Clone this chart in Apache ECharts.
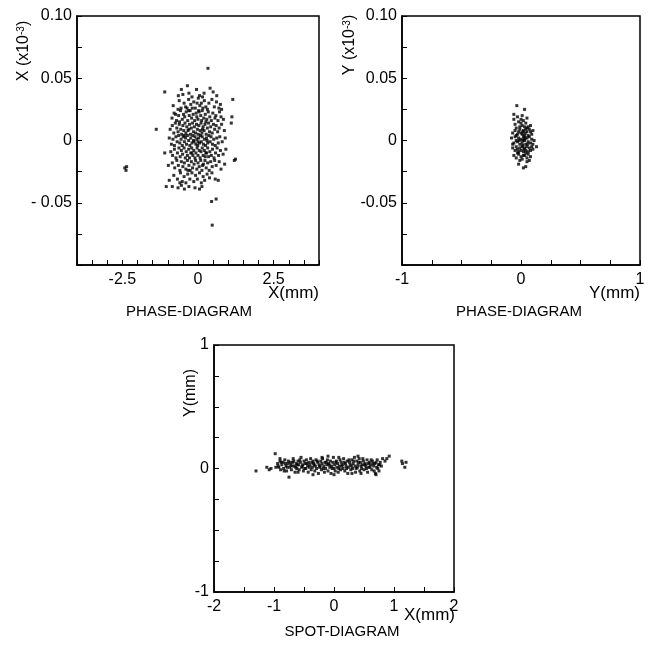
<!DOCTYPE html>
<html>
<head>
<meta charset="utf-8">
<script src="https://cdn.jsdelivr.net/npm/echarts@6/dist/echarts.min.js"></script>
<style>
  html, body { margin: 0; padding: 0; background: #fff; }
  #chart { width: 655px; height: 645px; }
</style>
</head>
<body>
<div id="chart"></div>
<script>
// Phase diagram in X: horizontal position X (mm) vs angle X' (x10^-3)
const phaseXPoints = [
  [-2.42,-0.022],[-2.38,-0.024],[-2.36,-0.021],[0.33,0.058],[0.47,-0.068],[0.45,-0.049],[0.6,-0.047],
  [-1.38,0.009],[-1.1,0.039],[1.15,0.033],[1.12,0.019],[1.1,0.014],[1.24,-0.015],[1.2,-0.016],
  [-1.05,-0.037],[-1.1,-0.01],[-0.95,-0.032],[-0.98,-0.02],
  [-0.55,0.041],[-0.5,0.037],[-0.35,0.044],[-0.3,0.038],[-0.2,0.035],[-0.05,0.041],[0.05,0.036],
  [0.2,0.038],[0.4,0.042],[0.5,0.039],[0.15,0.035],[-0.65,0.036],[0.62,0.036],
  [-0.82,0.028],[-0.62,0.032],[-0.56,0.026],[-0.46,0.030],[-0.41,0.027],[-0.31,0.033],[-0.24,0.029],
  [-0.14,0.031],[-0.09,0.026],[0.01,0.034],[0.06,0.028],[0.11,0.030],[0.21,0.032],[0.26,0.027],
  [0.36,0.030],[0.46,0.033],[0.54,0.027],[0.61,0.031],[0.69,0.026],[0.78,0.025],[-0.19,0.026],
  [0.31,0.025],[-0.66,0.025],[0.74,0.029],[-0.36,0.026],[0.16,0.026],[-0.03,0.030],
  [-0.86,0.018],[-0.79,0.022],[-0.71,0.016],[-0.64,0.020],[-0.58,0.024],[-0.52,0.017],[-0.48,0.021],
  [-0.44,0.019],[-0.39,0.023],[-0.34,0.016],[-0.29,0.020],[-0.26,0.024],[-0.21,0.018],[-0.16,0.021],
  [-0.11,0.016],[-0.06,0.022],[-0.04,0.019],[0.0,0.017],[0.04,0.023],[0.09,0.020],[0.12,0.016],
  [0.14,0.024],[0.19,0.018],[0.24,0.021],[0.29,0.017],[0.34,0.023],[0.39,0.019],[0.44,0.016],
  [0.49,0.022],[0.56,0.018],[0.59,0.020],[0.66,0.016],[0.71,0.023],[0.76,0.019],[0.84,0.017],
  [-0.31,0.024],[-0.61,0.015],[0.26,0.015],[-0.74,0.021],[0.02,0.024],
  [-0.92,0.009],[-0.85,0.012],[-0.8,0.006],[-0.75,0.014],[-0.7,0.010],[-0.66,0.007],[-0.62,0.013],
  [-0.57,0.009],[-0.54,0.005],[-0.5,0.012],[-0.47,0.008],[-0.43,0.014],[-0.4,0.006],[-0.37,0.011],
  [-0.33,0.008],[-0.28,0.013],[-0.25,0.005],[-0.22,0.010],[-0.18,0.014],[-0.15,0.007],[-0.12,0.011],
  [-0.08,0.006],[-0.05,0.013],[-0.02,0.009],[0.01,0.005],[0.03,0.012],[0.07,0.008],[0.1,0.014],
  [0.13,0.006],[0.17,0.011],[0.2,0.008],[0.23,0.013],[0.27,0.005],[0.31,0.010],[0.35,0.014],
  [0.38,0.007],[0.42,0.011],[0.47,0.006],[0.51,0.013],[0.55,0.009],[0.6,0.012],[0.65,0.007],
  [0.7,0.010],[0.78,0.013],[0.87,0.008],[-0.3,0.009],[0.15,0.009],
  [-0.95,0.002],[-0.88,-0.003],[-0.83,0.001],[-0.78,-0.004],[-0.73,0.003],[-0.69,-0.001],[-0.64,0.004],
  [-0.6,-0.002],[-0.56,0.001],[-0.52,-0.004],[-0.49,0.003],[-0.45,-0.001],[-0.41,0.002],[-0.38,-0.003],
  [-0.35,0.004],[-0.31,0.0],[-0.27,-0.004],[-0.24,0.002],[-0.2,-0.002],[-0.17,0.004],[-0.13,-0.001],
  [-0.1,0.003],[-0.07,-0.003],[-0.04,0.001],[-0.01,-0.004],[0.02,0.002],[0.05,-0.002],[0.08,0.004],
  [0.11,-0.001],[0.14,0.003],[0.18,-0.003],[0.21,0.001],[0.25,-0.004],[0.28,0.002],[0.32,-0.002],
  [0.36,0.004],[0.4,-0.001],[0.43,0.003],[0.48,-0.003],[0.52,0.001],[0.57,-0.004],[0.62,0.002],
  [0.67,-0.002],[0.72,0.003],[0.8,-0.001],[0.9,0.002],[-0.15,0.0],[0.3,0.0],[-0.45,0.004],[0.0,-0.001],
  [-0.9,-0.009],[-0.84,-0.012],[-0.78,-0.007],[-0.73,-0.014],[-0.68,-0.010],[-0.63,-0.006],[-0.59,-0.013],
  [-0.55,-0.008],[-0.51,-0.011],[-0.46,-0.006],[-0.42,-0.014],[-0.39,-0.009],[-0.35,-0.012],[-0.31,-0.007],
  [-0.28,-0.014],[-0.24,-0.010],[-0.21,-0.006],[-0.17,-0.012],[-0.14,-0.008],[-0.1,-0.014],[-0.07,-0.010],
  [-0.03,-0.006],[0.0,-0.012],[0.04,-0.008],[0.07,-0.014],[0.1,-0.009],[0.14,-0.006],[0.17,-0.012],
  [0.21,-0.008],[0.24,-0.013],[0.28,-0.010],[0.32,-0.006],[0.35,-0.013],[0.39,-0.009],[0.44,-0.012],
  [0.48,-0.007],[0.53,-0.014],[0.58,-0.010],[0.63,-0.006],[0.68,-0.012],[0.74,-0.008],[0.83,-0.011],
  [0.92,-0.007],[-0.2,-0.010],[0.26,-0.010],
  [-0.85,-0.018],[-0.77,-0.022],[-0.7,-0.016],[-0.65,-0.020],[-0.6,-0.024],[-0.55,-0.017],[-0.5,-0.021],
  [-0.45,-0.018],[-0.4,-0.023],[-0.35,-0.016],[-0.3,-0.020],[-0.26,-0.024],[-0.22,-0.017],[-0.18,-0.022],
  [-0.13,-0.019],[-0.08,-0.016],[-0.04,-0.023],[0.0,-0.018],[0.04,-0.021],[0.09,-0.016],[0.13,-0.024],
  [0.18,-0.019],[0.23,-0.016],[0.27,-0.022],[0.32,-0.018],[0.37,-0.024],[0.42,-0.017],[0.47,-0.021],
  [0.55,-0.016],[0.6,-0.020],[0.7,-0.017],[0.76,-0.023],[0.88,-0.019],[-0.33,-0.024],[0.15,-0.020],
  [-0.8,-0.028],[-0.68,-0.031],[-0.58,-0.026],[-0.52,-0.033],[-0.46,-0.029],[-0.4,-0.034],[-0.34,-0.027],
  [-0.27,-0.031],[-0.2,-0.026],[-0.14,-0.033],[-0.08,-0.028],[-0.02,-0.031],[0.05,-0.026],[0.11,-0.034],
  [0.17,-0.029],[0.22,-0.032],[0.3,-0.027],[0.38,-0.030],[0.46,-0.026],[0.57,-0.031],[0.67,-0.032],
  [-0.6,-0.034],
  [-0.66,-0.038],[-0.55,-0.036],[-0.45,-0.039],[-0.3,-0.037],[-0.1,-0.038],[0.05,-0.039],[0.13,-0.037],
  [-0.85,-0.037]
];

// Phase diagram in Y: vertical position Y (mm) vs angle Y' (x10^-3)
const phaseYPoints = [
  [-0.035,0.028],[0.03,0.025],[-0.06,0.021],[0.0,0.017],[0.13,-0.005],[0.02,-0.022],[0.04,-0.021],
  [-0.02,-0.019],[0.05,-0.017],
  [-0.03,0.019],[0.01,0.020],[0.05,0.018],[-0.06,0.017],
  [-0.05,0.013],[-0.02,0.015],[0.01,0.012],[0.04,0.014],[0.06,0.011],[-0.04,0.010],[0.02,0.016],
  [0.08,0.012],[-0.01,0.011],[0.05,0.010],[0.0,0.014],[0.03,0.011],
  [-0.07,0.006],[-0.05,0.008],[-0.03,0.005],[-0.01,0.009],[0.0,0.006],[0.02,0.008],[0.03,0.004],
  [0.05,0.007],[0.07,0.009],[0.09,0.005],[-0.04,0.004],[0.01,0.005],[0.04,0.009],[0.06,0.004],
  [0.08,0.007],[-0.02,0.007],[0.1,0.008],[0.015,0.007],[0.035,0.006],
  [-0.08,0.002],[-0.06,-0.002],[-0.05,0.003],[-0.03,-0.001],[-0.02,0.002],[-0.01,-0.003],[0.0,0.001],
  [0.01,-0.002],[0.02,0.003],[0.03,0.0],[0.04,-0.003],[0.05,0.002],[0.06,-0.001],[0.07,0.003],
  [0.08,-0.002],[0.09,0.001],[0.1,-0.003],[-0.04,0.0],[0.015,0.0],[0.035,0.002],[0.055,-0.003],
  [-0.07,-0.003],[0.11,0.0],[0.025,0.001],[-0.015,0.0],
  [-0.07,-0.006],[-0.05,-0.008],[-0.04,-0.005],[-0.02,-0.009],[-0.01,-0.006],[0.0,-0.008],[0.01,-0.005],
  [0.02,-0.009],[0.03,-0.006],[0.04,-0.008],[0.05,-0.005],[0.06,-0.009],[0.07,-0.006],[0.08,-0.008],
  [0.09,-0.005],[-0.03,-0.007],[0.025,-0.007],[0.1,-0.007],[0.015,-0.004],
  [-0.06,-0.012],[-0.04,-0.014],[-0.02,-0.011],[0.0,-0.013],[0.01,-0.015],[0.03,-0.012],[0.05,-0.014],
  [0.06,-0.011],[0.08,-0.013],[-0.01,-0.016],[0.04,-0.010],[0.07,-0.016],[-0.03,-0.010],[0.02,-0.012]
];

// Spot diagram at the image plane: X (mm) vs Y (mm)
const spotPoints = [
  [-1.3,-0.02],[-1.12,0.01],[-1.08,-0.01],[-1.05,0.0],[-0.98,0.12],[-0.9,0.08],[-0.75,-0.07],
  [1.13,0.06],[1.2,0.05],[1.18,0.01],[1.14,0.04],[0.92,0.1],[0.88,0.08],[0.85,0.06],[0.7,-0.05],
  [-0.94,0.04],[-0.92,0.01],[-0.9,0.06],[-0.89,-0.01],[-0.87,0.03],[-0.85,0.05],[-0.84,0.0],[-0.82,0.07],
  [-0.8,0.02],[-0.79,-0.02],[-0.77,0.04],[-0.76,0.06],[-0.74,0.01],[-0.72,0.03],[-0.71,-0.01],[-0.69,0.05],
  [-0.68,0.08],[-0.66,0.02],[-0.65,-0.03],[-0.63,0.04],[-0.62,0.0],[-0.6,0.06],[-0.59,0.03],[-0.58,-0.01],
  [-0.56,0.05],[-0.55,0.09],[-0.54,0.01],[-0.52,0.03],[-0.51,-0.02],[-0.5,0.06],[-0.48,0.04],[-0.47,0.0],
  [-0.46,0.07],[-0.44,0.02],[-0.43,-0.03],[-0.42,0.05],[-0.4,0.03],[-0.39,0.08],[-0.38,-0.01],[-0.36,0.01],
  [-0.35,0.06],[-0.34,0.04],[-0.32,-0.02],[-0.31,0.02],[-0.3,0.07],[-0.29,0.0],[-0.27,0.05],[-0.26,-0.04],
  [-0.25,0.03],[-0.24,0.01],[-0.22,0.06],[-0.21,-0.01],[-0.2,0.04],[-0.19,0.08],[-0.17,0.02],[-0.16,-0.03],
  [-0.15,0.05],[-0.14,0.0],[-0.12,0.03],[-0.11,0.07],[-0.1,-0.02],[-0.09,0.04],[-0.07,0.01],[-0.06,0.06],
  [-0.05,-0.04],[-0.04,0.02],[-0.02,0.05],[-0.01,0.09],[0.0,0.0],[0.01,0.03],[0.02,-0.02],[0.04,0.06],
  [0.05,0.01],[0.06,0.04],[0.07,-0.03],[0.09,0.02],[0.1,0.07],[0.11,-0.01],[0.12,0.05],[0.14,0.03],
  [0.15,0.0],[0.16,0.08],[0.18,-0.02],[0.19,0.04],[0.2,0.02],[0.22,0.06],[0.23,-0.04],[0.24,0.01],
  [0.26,0.05],[0.27,0.03],[0.28,-0.01],[0.3,0.07],[0.31,0.0],[0.32,0.04],[0.34,0.09],[0.35,0.02],
  [0.36,-0.03],[0.38,0.06],[0.39,0.01],[0.4,0.03],[0.42,0.08],[0.43,-0.02],[0.44,0.05],[0.46,0.0],
  [0.47,0.03],[0.49,0.06],[0.5,-0.01],[0.52,0.04],[0.53,0.02],[0.55,0.07],[0.56,-0.03],[0.58,0.01],
  [0.59,0.05],[0.61,0.03],[0.63,-0.01],[0.64,0.06],[0.66,0.02],[0.68,0.04],[0.69,-0.04],[0.71,0.01],
  [0.72,0.07],[0.74,0.03],[0.75,-0.02],[0.77,0.05],[0.79,0.02],[0.81,0.08],
  [-0.93,0.02],[-0.88,0.05],[-0.83,-0.02],[-0.81,0.04],[-0.78,0.01],[-0.73,0.05],[-0.7,0.02],[-0.67,0.06],
  [-0.64,0.01],[-0.61,0.03],[-0.57,0.07],[-0.53,0.02],[-0.49,0.0],[-0.45,0.04],[-0.41,0.01],[-0.37,0.05],
  [-0.33,0.03],[-0.28,0.06],[-0.23,0.02],[-0.18,0.0],[-0.13,0.05],[-0.08,0.03],[-0.03,0.0],[0.03,0.05],
  [0.08,0.0],[0.13,0.02],[0.17,0.05],[0.21,0.0],[0.25,0.07],[0.29,0.02],[0.33,0.06],[0.37,0.0],
  [0.41,0.05],[0.45,0.02],[0.48,0.08],[0.51,0.03],[0.54,0.0],[0.57,0.04],[0.6,0.01],[0.62,0.07],
  [0.65,0.04],[0.67,-0.02],[0.7,0.05],[0.73,0.0],[0.76,0.03],[-0.97,0.01],[0.08,0.09],[-0.2,0.09],
  [0.3,-0.04],[-0.35,-0.05],[0.45,-0.04],[-0.6,-0.03],[0.0,-0.05],[-0.1,0.1],[0.4,0.1]
];

// Labelled tick values and their printed text
const phaseXTickX = [[-2.5, '-2.5'], [0, '0'], [2.5, '2.5']];
const phaseTickY = [[0.1, '0.10'], [0.05, '0.05'], [0, '0'], [-0.05, '-0.05']];
const phaseXTickYLeft = [[0.1, '0.10'], [0.05, '0.05'], [0, '0'], [-0.05, '- 0.05']];
const phaseYTickX = [[-1, '-1'], [0, '0'], [1, '1']];
const spotTickX = [[-2, '-2'], [-1, '-1'], [0, '0'], [1, '1'], [2, '2']];
const spotTickY = [[-1, '-1'], [0, '0'], [1, '1']];

const FONT = '"Liberation Sans", Arial, Helvetica, sans-serif';

function labeller(pairs) {
  return function (v) {
    for (const p of pairs) {
      if (Math.abs(p[0] - v) < 1e-9) return p[1];
    }
    return '';
  };
}

function makeAxis(gridIndex, min, max, interval, pairs, isX) {
  return {
    type: 'value',
    gridIndex: gridIndex,
    min: min,
    max: max,
    interval: interval,
    axisLine: { show: true, onZero: false, lineStyle: { color: '#000', width: 1.5 } },
    axisTick: { show: true, inside: true, length: 5, lineStyle: { color: '#000', width: 1 } },
    splitLine: { show: false },
    axisLabel: {
      show: true,
      showMinLabel: true,
      showMaxLabel: true,
      hideOverlap: false,
      margin: isX ? 7 : 5,
      color: '#000',
      fontFamily: FONT,
      fontSize: 16,
      formatter: labeller(pairs)
    }
  };
}

function scatter(xi, data) {
  return {
    type: 'scatter',
    xAxisIndex: xi,
    yAxisIndex: xi,
    data: data,
    symbol: 'rect',
    symbolSize: 3,
    itemStyle: { color: '#000' },
    silent: true,
    animation: false
  };
}

function txt(x, y, text, align, rot, extra) {
  const style = Object.assign({
    text: text,
    fill: '#000',
    font: '17px ' + FONT,
    align: align,
    verticalAlign: 'middle'
  }, extra || {});
  const el = { type: 'text', x: x, y: y, style: style };
  if (rot) el.rotation = rot;
  return el;
}

const supRich = {
  s: { fontSize: 10, fontFamily: FONT, verticalAlign: 'top', lineHeight: 16, padding: [0, 0, 6, 0] }
};

const chart = echarts.init(document.getElementById('chart'), null, { renderer: 'canvas' });

chart.setOption({
  backgroundColor: '#fff',
  animation: false,
  grid: [
    { left: 77, top: 16, width: 242, height: 249, show: true, borderColor: '#000', borderWidth: 1.5, backgroundColor: 'transparent' },
    { left: 402, top: 16, width: 238, height: 249, show: true, borderColor: '#000', borderWidth: 1.5, backgroundColor: 'transparent' },
    { left: 214, top: 345, width: 240, height: 247, show: true, borderColor: '#000', borderWidth: 1.5, backgroundColor: 'transparent' }
  ],
  xAxis: [
    makeAxis(0, -4, 4, 0.5, phaseXTickX, true),
    makeAxis(1, -1, 1, 0.25, phaseYTickX, true),
    makeAxis(2, -2, 2, 0.5, spotTickX, true)
  ],
  yAxis: [
    makeAxis(0, -0.1, 0.1, 0.025, phaseXTickYLeft, false),
    makeAxis(1, -0.1, 0.1, 0.025, phaseTickY, false),
    makeAxis(2, -1, 1, 0.25, spotTickY, false)
  ],
  series: [
    scatter(0, phaseXPoints),
    scatter(1, phaseYPoints),
    scatter(2, spotPoints)
  ],
  graphic: [
    txt(24, 51, 'X (x10{s|-3})', 'center', Math.PI / 2, { rich: supRich, font: '16px ' + FONT }),
    txt(350, 45, 'Y (x10{s|-3})', 'center', Math.PI / 2, { rich: supRich, font: '16px ' + FONT }),
    txt(191, 393, 'Y(mm)', 'center', Math.PI / 2, { font: '16px ' + FONT }),
    txt(319, 293, 'X(mm)', 'right'),
    txt(640, 293, 'Y(mm)', 'right'),
    txt(455, 615, 'X(mm)', 'right'),
    txt(189, 312, 'PHASE-DIAGRAM', 'center', 0, { font: '15px ' + FONT }),
    txt(519, 312, 'PHASE-DIAGRAM', 'center', 0, { font: '15px ' + FONT }),
    txt(342, 632, 'SPOT-DIAGRAM', 'center', 0, { font: '15px ' + FONT })
  ]
});
</script>
</body>
</html>
